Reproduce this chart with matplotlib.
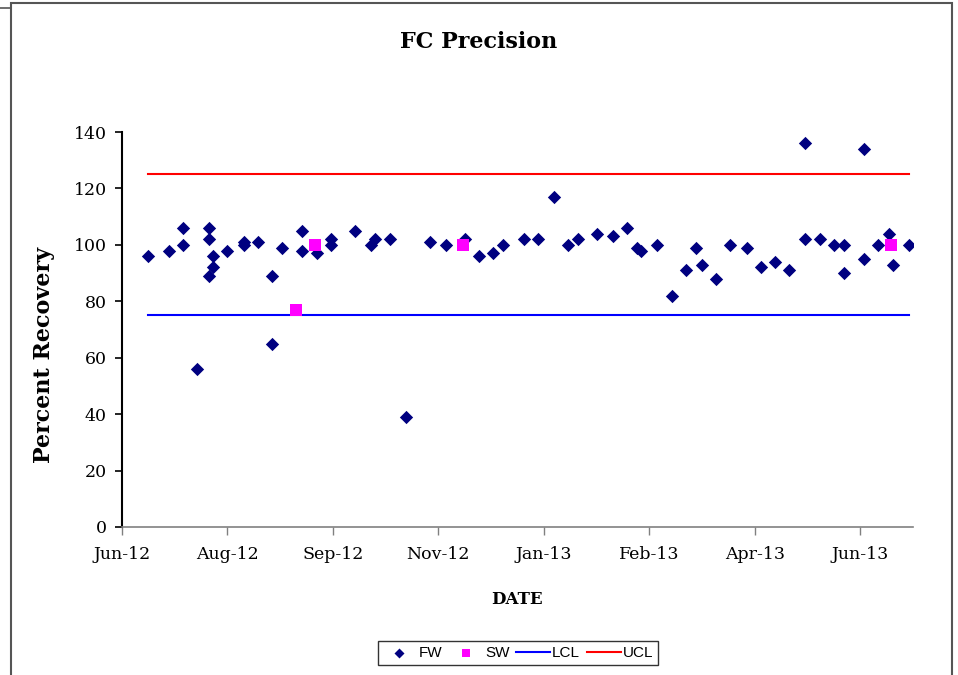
import datetime as dt
import matplotlib
matplotlib.use('Agg')
import matplotlib.pyplot as plt
import matplotlib.dates as mdates
from matplotlib.lines import Line2D
from matplotlib.patches import Rectangle

# FW samples (date, percent recovery)
fw_dates = ['2012-06-25', '2012-07-05', '2012-07-12', '2012-07-12', '2012-07-19',
            '2012-07-25', '2012-07-25', '2012-07-25', '2012-07-27', '2012-07-27',
            '2012-08-03', '2012-08-11', '2012-08-11', '2012-08-18', '2012-08-25',
            '2012-08-25', '2012-08-30', '2012-09-09', '2012-09-09', '2012-09-16',
            '2012-09-23', '2012-09-23', '2012-10-05', '2012-10-13', '2012-10-15',
            '2012-10-22', '2012-10-30', '2012-11-11', '2012-11-19', '2012-11-28',
            '2012-12-05', '2012-12-12', '2012-12-17', '2012-12-27', '2013-01-03',
            '2013-01-11', '2013-01-18', '2013-01-23', '2013-02-01', '2013-02-09',
            '2013-02-16', '2013-02-21', '2013-02-23', '2013-03-03', '2013-03-10',
            '2013-03-17', '2013-03-22', '2013-03-25', '2013-04-01', '2013-04-08',
            '2013-04-16', '2013-04-23', '2013-04-30', '2013-05-07', '2013-05-15',
            '2013-05-15', '2013-05-22', '2013-05-29', '2013-06-03', '2013-06-03',
            '2013-06-13', '2013-06-13', '2013-06-20', '2013-06-25', '2013-06-27',
            '2013-07-05']
fw_values = [96, 98, 106, 100, 56,
             106, 102, 89, 96, 92,
             98, 101, 100, 101, 89,
             65, 99, 105, 98, 97,
             102, 100, 105, 100, 102,
             102, 39, 101, 100, 102,
             96, 97, 100, 102, 102,
             117, 100, 102, 104, 103,
             106, 99, 98, 100, 82,
             91, 99, 93, 88, 100,
             99, 92, 94, 91, 136,
             102, 102, 100, 100, 90,
             134, 95, 100, 104, 93,
             100]

# SW samples
sw_dates = ['2012-09-06', '2012-09-15', '2012-11-27', '2013-06-26']
sw_values = [77, 100, 100, 100]

# control limits
lcl = 75
ucl = 125

to_date = lambda s: dt.datetime.strptime(s, '%Y-%m-%d')
fw_x = [to_date(d) for d in fw_dates]
sw_x = [to_date(d) for d in sw_dates]
limit_x = [fw_x[0], fw_x[-1]]

serif = 'DejaVu Serif'
sans = 'Liberation Sans'

fig = plt.figure(figsize=(9.58, 6.75), dpi=100)
ax = fig.add_axes([0.1273, 0.2193, 0.8257, 0.5851])

# chart frame
fig.add_artist(Rectangle((11 / 958, -0.05), 941 / 958, 1.05 - 3 / 675,
                         transform=fig.transFigure, fill=False,
                         edgecolor='#555555', linewidth=1.5))
fig.add_artist(Line2D([0, 10 / 958], [1 - 8 / 675, 1 - 8 / 675],
                      transform=fig.transFigure, color='#555555', linewidth=1.2))

ax.plot(limit_x, [lcl, lcl], color='#0000FF', linewidth=1.5, label='LCL', zorder=2)
ax.plot(limit_x, [ucl, ucl], color='#FF0000', linewidth=1.5, label='UCL', zorder=2)
ax.scatter(fw_x, fw_values, marker='D', s=46, color='#000080', label='FW', zorder=3,
           linewidths=0)
ax.scatter(sw_x, sw_values, marker='s', s=64, color='#FF00FF', label='SW', zorder=4,
           linewidths=0)

# axes
start = dt.datetime(2012, 6, 12)
ticks = [start + dt.timedelta(days=52 * i) for i in range(8)]
ax.set_xlim(start, start + dt.timedelta(days=390))
ax.set_xticks(ticks)
ax.xaxis.set_major_formatter(mdates.DateFormatter('%b-%y'))
ax.set_ylim(0, 140)
ax.set_yticks(range(0, 141, 20))

for side in ['top', 'right']:
    ax.spines[side].set_visible(False)
ax.spines['left'].set_color('black')
ax.spines['left'].set_linewidth(1.5)
ax.spines['bottom'].set_color('#808080')
ax.spines['bottom'].set_linewidth(1.2)
ax.tick_params(axis='y', direction='out', length=5, width=1.2, color='black',
               labelsize=12.5, pad=6)
ax.tick_params(axis='x', direction='out', length=6, width=1, color='#808080',
               labelsize=12.5, pad=8)
for lbl in ax.get_xticklabels() + ax.get_yticklabels():
    lbl.set_fontfamily(serif)

ax.set_xlabel('DATE', fontfamily=serif, fontweight='bold', fontsize=12, labelpad=20)
fig.text(44 / 958, 1 - 355 / 675, 'Percent Recovery', rotation=90, ha='center',
         va='center', fontfamily=serif, fontweight='bold', fontsize=16)
fig.text(0.5, 1 - 42 / 675, 'FC Precision', ha='center', va='center',
         fontfamily=serif, fontweight='bold', fontsize=16)

# legend in the original order
h, l = ax.get_legend_handles_labels()
order = [l.index(n) for n in ['FW', 'SW', 'LCL', 'UCL']]
leg = fig.legend([h[i] for i in order], [l[i] for i in order], loc='center',
                 bbox_to_anchor=(518 / 958, 1 - 653 / 675), ncol=4, frameon=True,
                 fancybox=False, edgecolor='black', prop={'family': sans, 'size': 11},
                 handlelength=2.2, columnspacing=0.45, handletextpad=0.15,
                 borderpad=0.3, borderaxespad=0, markerscale=0.75)
leg.get_frame().set_linewidth(1)

fig.savefig('out.png', dpi=100)
